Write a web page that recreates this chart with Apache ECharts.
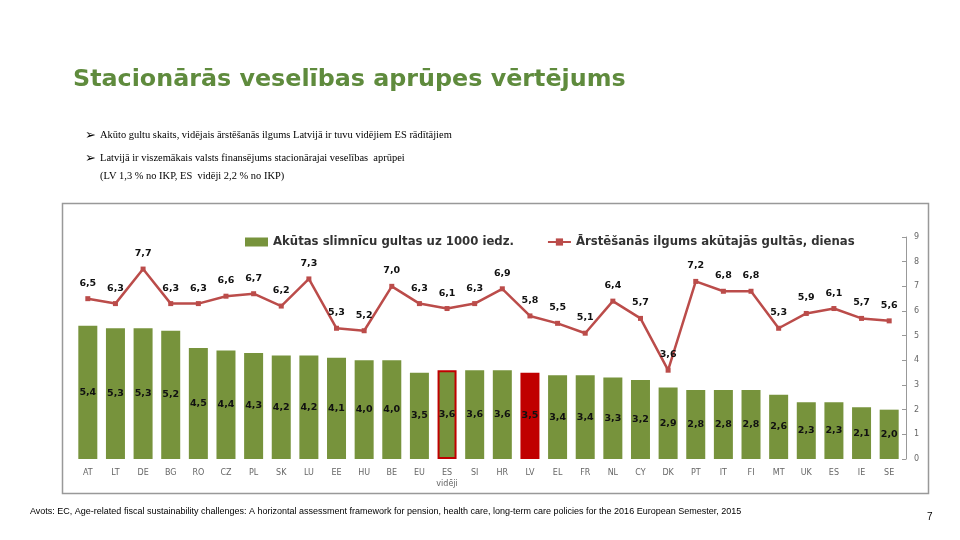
<!DOCTYPE html>
<html>
<head>
<meta charset="utf-8">
<script src="https://cdn.jsdelivr.net/npm/echarts@6/dist/echarts.min.js"></script>
<style>html,body{margin:0;padding:0;background:#fff;}#c{width:960px;height:540px;}</style>
</head>
<body>
<div id="c"></div>
<script>
const categories = ['AT','LT','DE','BG','RO','CZ','PL','SK','LU','EE','HU','BE','EU','ES\nvidēji','SI','HR','LV','EL','FR','NL','CY','DK','PT','IT','FI','MT','UK','ES','IE','SE'];
const bedsPer1000 = [5.4,5.3,5.3,5.2,4.5,4.4,4.3,4.2,4.2,4.1,4.0,4.0,3.5,3.6,3.6,3.6,3.5,3.4,3.4,3.3,3.2,2.9,2.8,2.8,2.8,2.6,2.3,2.3,2.1,2.0];
const stayDays = [6.5,6.3,7.7,6.3,6.3,6.6,6.7,6.2,7.3,5.3,5.2,7.0,6.3,6.1,6.3,6.9,5.8,5.5,5.1,6.4,5.7,3.6,7.2,6.8,6.8,5.3,5.9,6.1,5.7,5.6];
const seriesNames = ['Akūtas slimnīcu gultas uz 1000 iedz.','Ārstēšanās ilgums akūtajās gultās, dienas'];
const titleText = 'Stacionārās veselības aprūpes vērtējums';
const bulletLines = ['Akūto gultu skaits, vidējais ārstēšanās ilgums Latvijā ir tuvu vidējiem ES rādītājiem','Latvijā ir viszemākais valsts finansējums stacionārajai veselības  aprūpei','(LV 1,3 % no IKP, ES  vidēji 2,2 % no IKP)'];
const sourceText = 'Avots: EC, Age-related fiscal sustainability challenges: A horizontal assessment framework for pension, health care, long-term care policies for the 2016 European Semester, 2015';
const pageNo = '7';

const GREEN = '#77933c', RED = '#c00000', LINE = '#bb4c4a';
const fmt = p => Number(p.value).toFixed(1).replace('.', ',');

const barData = bedsPer1000.map((v, i) => {
  const c = categories[i];
  if (c === 'LV') return { value: v, itemStyle: { color: RED } };
  if (c.indexOf('vidēji') >= 0) return { value: v, itemStyle: { color: GREEN, borderColor: RED, borderWidth: 2 } };
  return v;
});

const chart = echarts.init(document.getElementById('c'), null, { renderer: 'canvas' });
chart.setOption({
  animation: false,
  backgroundColor: '#fff',
  textStyle: { fontFamily: 'DejaVu Sans' },
  title: {
    text: titleText, left: 73, top: 68, padding: 0,
    textStyle: { color: '#5f8b3d', fontSize: 23.8, fontWeight: 'bold', fontFamily: 'DejaVu Sans' }
  },
  legend: {
    left: 240, top: 231, itemGap: 33, itemWidth: 23, itemHeight: 9,
    textStyle: { fontSize: 11.7, fontWeight: 'bold', color: '#333', fontFamily: 'DejaVu Sans' },
    data: [
      { name: seriesNames[0], icon: 'rect' },
      { name: seriesNames[1] }
    ]
  },
  grid: { left: 74, right: 57, top: 237, bottom: 81, containLabel: false },
  xAxis: {
    type: 'category', data: categories,
    axisLine: { show: false }, axisTick: { show: false },
    axisLabel: { color: '#666', fontSize: 8, margin: 8, interval: 0, lineHeight: 11, fontFamily: 'DejaVu Sans' }
  },
  yAxis: {
    type: 'value', position: 'right', offset: 3, min: 0, max: 9, interval: 1,
    splitLine: { show: false },
    axisLine: { show: true, lineStyle: { color: '#999' } },
    axisTick: { show: true, inside: true, length: 4, lineStyle: { color: '#999' } },
    axisLabel: { color: '#666', fontSize: 8, margin: 8 }
  },
  series: [
    {
      name: seriesNames[0], type: 'bar', data: barData, barWidth: 19,
      itemStyle: { color: GREEN },
      label: { show: true, position: 'inside', formatter: fmt, color: '#111', fontSize: 9.5, fontWeight: 'bold', fontFamily: 'DejaVu Sans' }
    },
    {
      name: seriesNames[1], type: 'line', data: stayDays,
      symbol: 'rect', symbolSize: 5, z: 5,
      lineStyle: { color: LINE, width: 2.5 }, itemStyle: { color: LINE },
      label: { show: true, position: 'top', distance: 8, formatter: fmt, color: '#111', fontSize: 9.5, fontWeight: 'bold', fontFamily: 'DejaVu Sans' }
    }
  ],
  graphic: [
    { type: 'rect', shape: { x: 62.5, y: 203.5, width: 866, height: 290 }, style: { fill: null, stroke: '#999', lineWidth: 1.5 }, z: -1 },
    { type: 'text', left: 85, top: 129, style: { text: '➢', fontSize: 13, fill: '#000', fontFamily: 'DejaVu Sans' } },
    { type: 'text', left: 100, top: 130, style: { text: bulletLines[0], fontSize: 11, fill: '#000', fontFamily: 'Liberation Serif' }, scaleX: 0.95 },
    { type: 'text', left: 85, top: 152, style: { text: '➢', fontSize: 13, fill: '#000', fontFamily: 'DejaVu Sans' } },
    { type: 'text', left: 100, top: 153, style: { text: bulletLines[1], fontSize: 11, fill: '#000', fontFamily: 'Liberation Serif' }, scaleX: 0.95 },
    { type: 'text', left: 100, top: 171, style: { text: bulletLines[2], fontSize: 11, fill: '#000', fontFamily: 'Liberation Serif' }, scaleX: 0.95 },
    { type: 'text', left: 30, top: 507, style: { text: sourceText, fontSize: 9, fill: '#000', fontFamily: 'Liberation Sans' } },
    { type: 'text', left: 927, top: 512, style: { text: pageNo, fontSize: 10, fill: '#000', fontFamily: 'Liberation Sans' } }
  ]
});
</script>
</body>
</html>
